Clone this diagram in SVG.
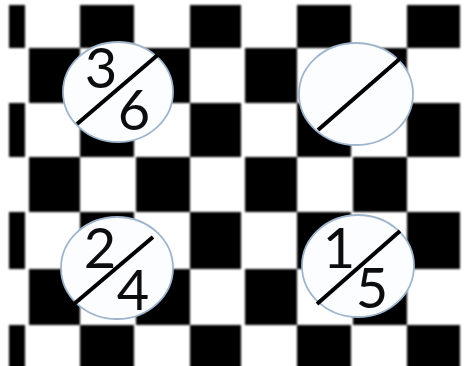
<svg xmlns="http://www.w3.org/2000/svg" width="464" height="366" viewBox="0 0 464 366">
  <defs>
    <filter id="soft" x="-5%" y="-5%" width="110%" height="110%">
      <feGaussianBlur stdDeviation="0.9"/>
    </filter>
    <filter id="soft2" x="-10%" y="-10%" width="120%" height="120%">
      <feGaussianBlur stdDeviation="0.4"/>
    </filter>
  </defs>
  <style>
    .blk { fill: #000; }
    .disc { fill: #fcfdff; stroke: #9fb5cb; stroke-width: 1.8; }
    .slash { stroke: #000; stroke-width: 4; stroke-linecap: butt; }
    .num { font-family: Lato, "Open Sans", "DejaVu Sans", sans-serif; font-size: 56px; fill: #111; text-anchor: middle; }
  </style>
  <rect x="0" y="0" width="464" height="366" fill="#fff"/>
  <g id="board" filter="url(#soft)">
    <rect class="blk" x="9" y="5" width="16" height="43"/>
    <rect class="blk" x="80" y="5" width="54" height="43"/>
    <rect class="blk" x="190" y="5" width="51" height="43"/>
    <rect class="blk" x="297" y="5" width="54" height="43"/>
    <rect class="blk" x="407" y="5" width="53" height="43"/>
    <rect class="blk" x="29" y="48" width="51" height="55"/>
    <rect class="blk" x="136" y="48" width="54" height="55"/>
    <rect class="blk" x="245" y="48" width="52" height="55"/>
    <rect class="blk" x="353" y="48" width="54" height="55"/>
    <rect class="blk" x="9" y="103" width="16" height="54"/>
    <rect class="blk" x="80" y="103" width="54" height="54"/>
    <rect class="blk" x="190" y="103" width="51" height="54"/>
    <rect class="blk" x="297" y="103" width="54" height="54"/>
    <rect class="blk" x="407" y="103" width="53" height="54"/>
    <rect class="blk" x="29" y="157" width="51" height="55"/>
    <rect class="blk" x="136" y="157" width="54" height="55"/>
    <rect class="blk" x="245" y="157" width="52" height="55"/>
    <rect class="blk" x="353" y="157" width="54" height="55"/>
    <rect class="blk" x="9" y="212" width="16" height="57"/>
    <rect class="blk" x="80" y="212" width="54" height="57"/>
    <rect class="blk" x="190" y="212" width="51" height="57"/>
    <rect class="blk" x="297" y="212" width="54" height="57"/>
    <rect class="blk" x="407" y="212" width="53" height="57"/>
    <rect class="blk" x="29" y="269" width="51" height="56"/>
    <rect class="blk" x="136" y="269" width="54" height="56"/>
    <rect class="blk" x="245" y="269" width="52" height="56"/>
    <rect class="blk" x="353" y="269" width="54" height="56"/>
    <rect class="blk" x="9" y="325" width="16" height="45"/>
    <rect class="blk" x="80" y="325" width="54" height="45"/>
    <rect class="blk" x="190" y="325" width="51" height="45"/>
    <rect class="blk" x="297" y="325" width="54" height="45"/>
    <rect class="blk" x="407" y="325" width="53" height="45"/>
  </g>
  <g id="disc-3-6" filter="url(#soft2)">
    <ellipse class="disc" cx="118" cy="92" rx="55" ry="50"/>
    <line class="slash" x1="77" y1="124" x2="160" y2="53"/>
    <text class="num" x="101" y="88">3</text>
    <text class="num" x="134" y="130">6</text>
  </g>
  <g id="disc-empty" filter="url(#soft2)">
    <ellipse class="disc" cx="356" cy="94" rx="57" ry="51"/>
    <line class="slash" x1="318" y1="130" x2="403" y2="56"/>
  </g>
  <g id="disc-2-4" filter="url(#soft2)">
    <ellipse class="disc" cx="117" cy="268" rx="56" ry="51"/>
    <line class="slash" x1="74" y1="304" x2="153" y2="237"/>
    <text class="num" x="100" y="268">2</text>
    <text class="num" x="133" y="310">4</text>
  </g>
  <g id="disc-1-5" filter="url(#soft2)">
    <ellipse class="disc" cx="358" cy="266" rx="56" ry="51"/>
    <line class="slash" x1="317" y1="304" x2="400" y2="231"/>
    <text class="num" x="339" y="268">1</text>
    <text class="num" x="372" y="308">5</text>
  </g>
  <g id="connectors"/>
</svg>
